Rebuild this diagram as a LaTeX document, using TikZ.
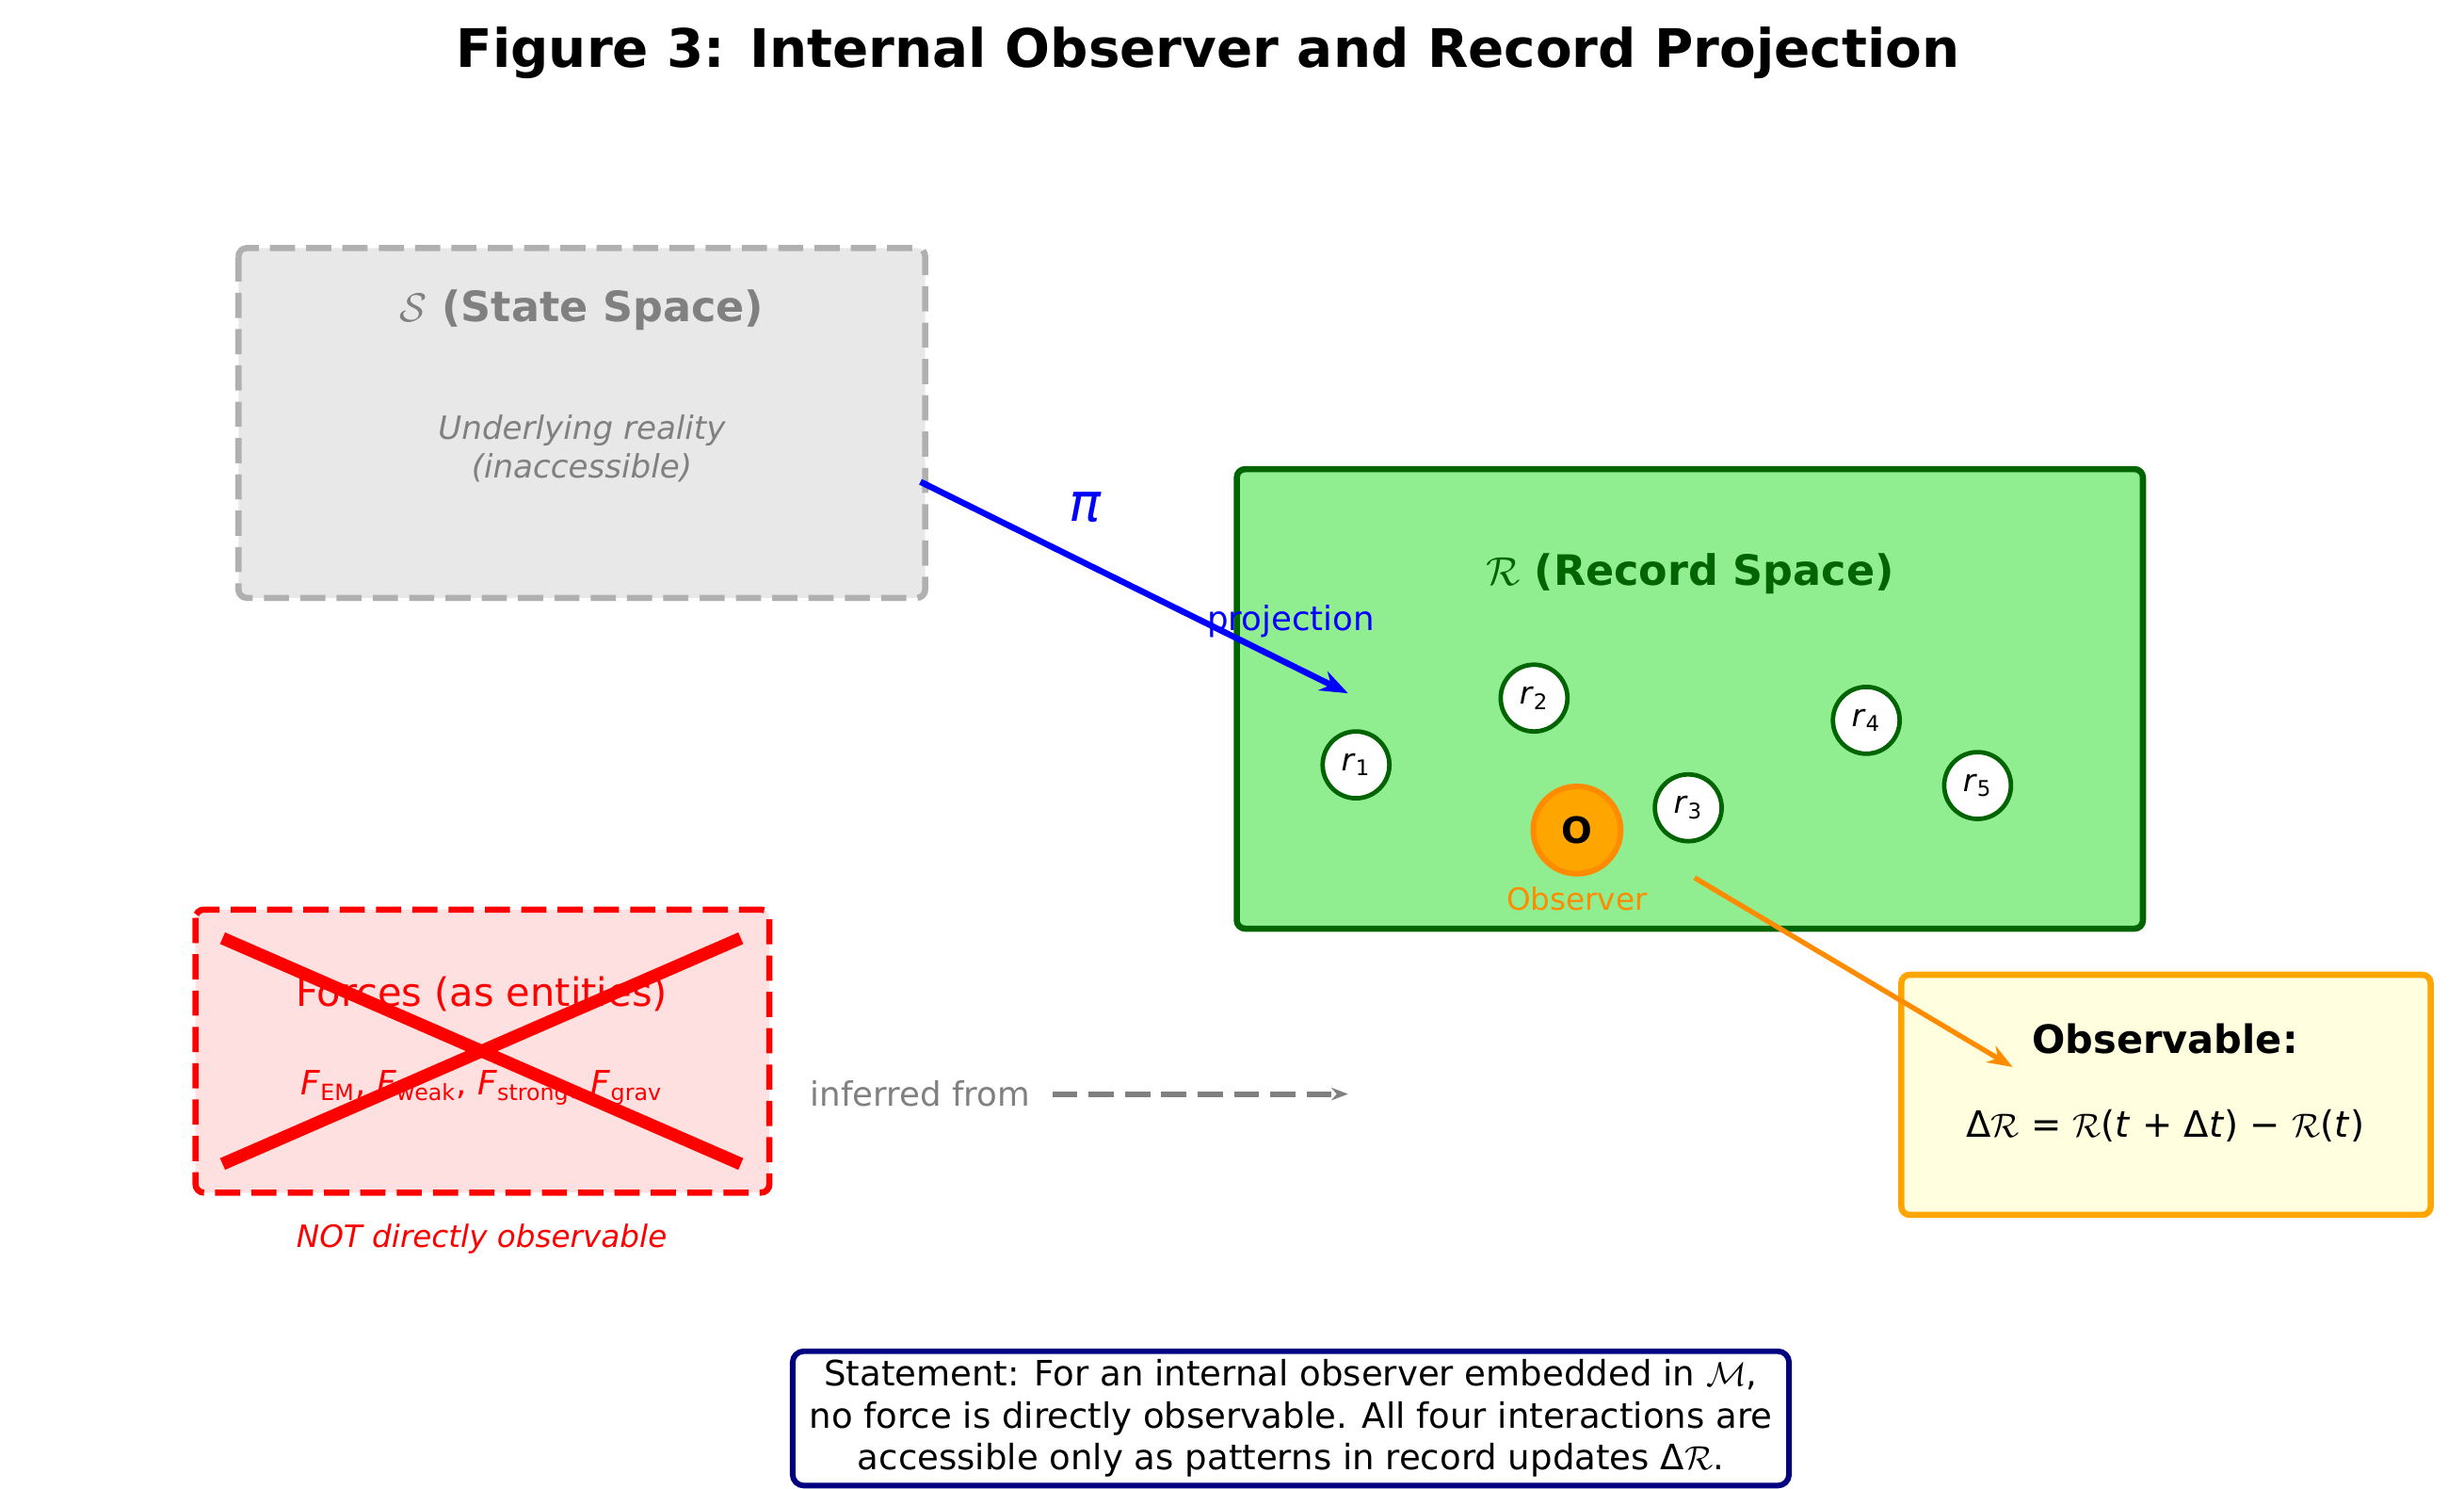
\documentclass[tikz,border=0pt]{standalone}
\usepackage{fontspec}
\setmainfont{DejaVu Sans}
\usetikzlibrary{arrows.meta}
\definecolor{sgray}{HTML}{B0B0B0}
\definecolor{sfill}{HTML}{E8E8E8}
\definecolor{rfill}{HTML}{90EE90}
\definecolor{dgreen}{HTML}{006400}
\definecolor{dorange}{HTML}{FF8C00}
\definecolor{orng}{HTML}{FFA500}
\definecolor{ffill}{HTML}{FFE0E0}
\definecolor{yfill}{HTML}{FFFFE0}
\definecolor{navy}{HTML}{000080}
\newcommand{\fs}[1]{\fontsize{#1}{\dimexpr#1pt*6/5\relax}\selectfont}
\newcommand{\vi}[1]{\textit{#1}}
\newcommand{\sub}[1]{\textsubscript{#1}}
\begin{document}
\begin{tikzpicture}[x=0.02cm,y=-0.02cm,
  rec/.style={circle,draw=dgreen,line width=1.6pt,fill=white,minimum size=0.84cm,inner sep=0pt,font=\fs{11}},
  txt/.style={align=center,inner sep=0pt},
  dsh/.style={dash pattern=on 9pt off 4pt}]
\useasboundingbox (0,0) rectangle (1550,936);
\node[txt,font=\fs{19}\bfseries] (title) at (760,33) {Figure 3: Internal Observer and Record Projection};
% state space
\draw[sgray,dsh,line width=2.2pt,fill=sfill,rounded corners=3pt] (150,156) rectangle (582,376);
\node[txt,text=gray,font=\fs{15}\bfseries] (st) at (366,195) {$\mathcal{S}$ (State Space)};
\node[txt,text=gray,font=\fs{11.5}\itshape] (su) at (366,282) {Underlying reality\\(inaccessible)};
\coordinate (pa) at (579,303);
% record space
\draw[dgreen,line width=2.2pt,fill=rfill,rounded corners=3pt] (778,295) rectangle (1348,584);
\node[txt,text=dgreen,font=\fs{15}\bfseries] (rt) at (1063,361) {$\mathcal{R}$ (Record Space)};
\node[rec] (r1) at (853,481) {\vi{r}\sub{1}};
\node[rec] (r2) at (965,439) {\vi{r}\sub{2}};
\node[rec] (r3) at (1062,508) {\vi{r}\sub{3}};
\node[rec] (r4) at (1174,453) {\vi{r}\sub{4}};
\node[rec] (r5) at (1244,494) {\vi{r}\sub{5}};
\node[circle,draw=dorange,line width=2pt,fill=orng,minimum size=1.1cm,inner sep=0pt,font=\fs{13}\bfseries] (O) at (992,522) {O};
\node[txt,text=dorange,font=\fs{11}] (obs) at (992,565) {Observer};
% projection
\coordinate (pb) at (848,436);
\draw[blue,line width=2.2pt,-{Stealth[length=10pt]}] (pa) -- (pb);
\node[txt,text=blue,font=\fs{19}] (pi) at (683,319) {\vi{π}};
\node[txt,text=blue,font=\fs{12}] (proj) at (812,391) {projection};
% forces
\draw[red,dsh,line width=2.2pt,fill=ffill,rounded corners=3pt] (123,572) rectangle (484,750);
\node[txt,text=red,font=\fs{14}] (ft) at (303,625) {Forces (as entities)};
\node[txt,text=red,font=\fs{12}] (ff) at (303,684) {\vi{F}\sub{EM}, \vi{F}\sub{weak}, \vi{F}\sub{strong}, \vi{F}\sub{grav}};
\draw[red,line width=4.5pt] (140,590) -- (466,732);
\draw[red,line width=4.5pt] (140,732) -- (466,590);
\node[txt,text=red,font=\fs{11}\itshape] (nd) at (303,779) {NOT directly observable};
\node[txt,text=gray,font=\fs{12}] (inf) at (579,688) {inferred from};
\coordinate (ia) at (662,688);
\coordinate (ib) at (848,688);
\draw[gray,line width=2pt,dsh,-{Stealth[length=6pt]}] (ia) -- (ib);
% observable
\draw[orng,line width=2.2pt,fill=yfill,rounded corners=3pt] (1196,613) rectangle (1529,764);
\node[txt,font=\fs{14}\bfseries] (ot) at (1362,653) {Observable:};
\node[txt,font=\fs{13}] (of) at (1362,708) {Δ$\mathcal{R}$ = $\mathcal{R}$(\vi{t} + Δ\vi{t}) − $\mathcal{R}$(\vi{t})};
\coordinate (oa) at (1066,552);
\coordinate (ob) at (1266,671);
\draw[dorange,line width=1.8pt,-{Stealth[length=9pt]}] (oa) -- (ob);
% statement
\node[draw=navy,line width=2pt,fill=white,rounded corners=4pt,align=center,font=\fs{12.5},inner xsep=6pt,inner ysep=3pt] (stmt) at (812,892) {Statement: For an internal observer embedded in $\mathcal{M}$,\\no force is directly observable. All four interactions are\\accessible only as patterns in record updates Δ$\mathcal{R}$.};
\end{tikzpicture}
\end{document}
